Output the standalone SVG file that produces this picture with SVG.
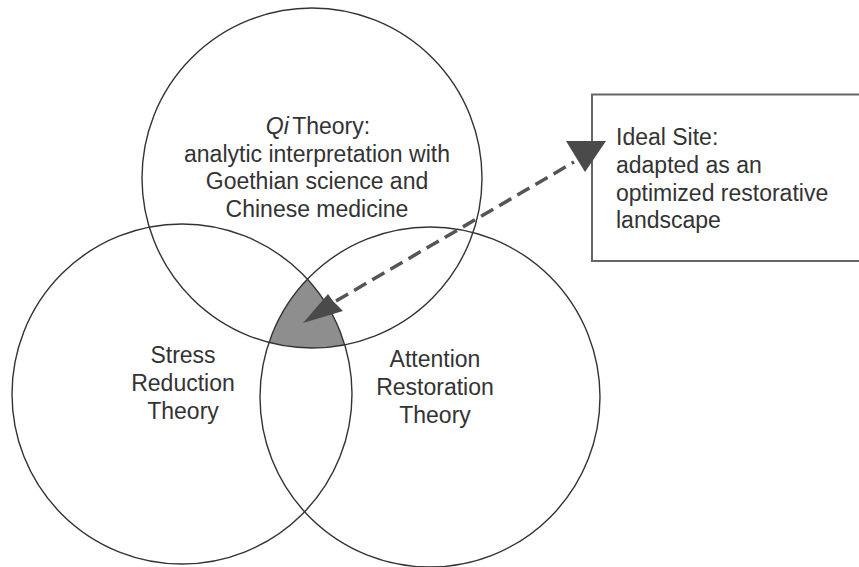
<svg xmlns="http://www.w3.org/2000/svg" width="859" height="567" viewBox="0 0 859 567">
<style>
.circ{fill:none;stroke:#333;stroke-width:1.4}
.lbl{font-family:"Liberation Sans",Arial,sans-serif;font-size:23px;fill:#333;text-anchor:middle}
.lbl-l{font-family:"Liberation Sans",Arial,sans-serif;font-size:23px;fill:#333}
.conn{fill:none;stroke:#555;stroke-width:3.5;stroke-dasharray:14 7}
.head{fill:#4a4a4a}
</style>
<defs>
<clipPath id="clipB"><circle cx="182" cy="394" r="170"/></clipPath>
<clipPath id="clipC"><circle cx="430" cy="397" r="170"/></clipPath>
</defs>
<rect width="859" height="567" fill="#fff"/>
<g id="overlap" clip-path="url(#clipB)">
<circle cx="312" cy="178" r="170" fill="#8e8e8e" clip-path="url(#clipC)"/>
</g>
<g id="qi-theory">
<circle class="circ" cx="312" cy="178" r="170"/>
<text class="lbl" x="318" y="134"><tspan font-style="italic">Qi</tspan><tspan font-size="12px"> </tspan>Theory:</text>
<text class="lbl" x="317" y="161.5">analytic interpretation with</text>
<text class="lbl" x="317" y="189">Goethian science and</text>
<text class="lbl" x="317" y="217">Chinese medicine</text>
</g>
<g id="stress-reduction">
<circle class="circ" cx="182" cy="394" r="170"/>
<text class="lbl" x="183" y="363">Stress</text>
<text class="lbl" x="183" y="391">Reduction</text>
<text class="lbl" x="183" y="419">Theory</text>
</g>
<g id="attention-restoration">
<circle class="circ" cx="430" cy="397" r="170"/>
<text class="lbl" x="435" y="366.5">Attention</text>
<text class="lbl" x="435" y="394.5">Restoration</text>
<text class="lbl" x="435" y="422.5">Theory</text>
</g>
<g id="ideal-site">
<rect x="592" y="94.5" width="290" height="166.5" fill="#fff" stroke="#666" stroke-width="2"/>
<text class="lbl-l" x="616" y="145">Ideal Site:</text>
<text class="lbl-l" x="616" y="172.5">adapted as an</text>
<text class="lbl-l" x="616" y="200.5">optimized restorative</text>
<text class="lbl-l" x="616" y="227.5">landscape</text>
</g>
<g id="connectors">
<line class="conn" x1="336" y1="301" x2="574" y2="162"/>
<polygon class="head" points="303,323 328,294 333,301 343,311"/>
<polygon class="head" points="566,141 606,141 585,172"/>
</g>
</svg>
